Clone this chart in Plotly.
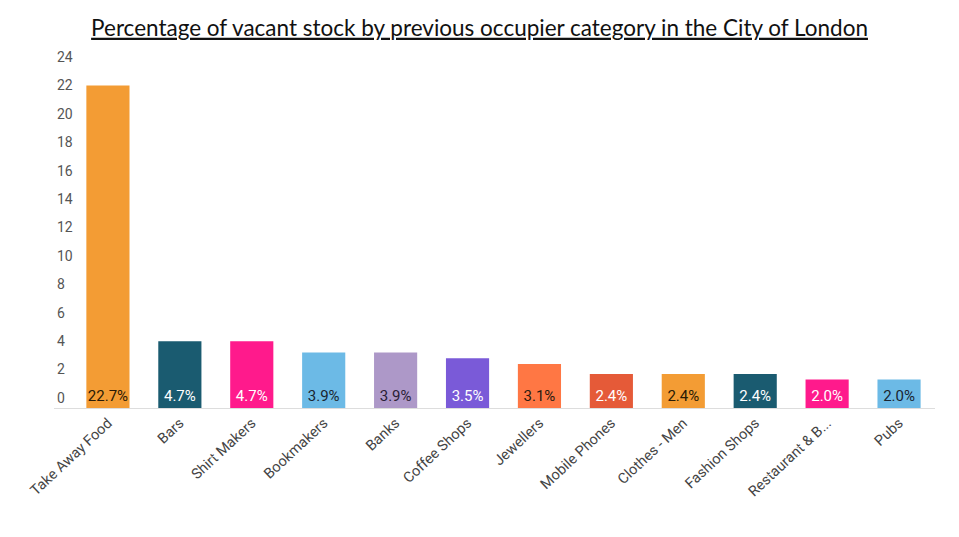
import plotly.graph_objects as go

categories = ["Take Away Food", "Bars", "Shirt Makers", "Bookmakers", "Banks",
              "Coffee Shops", "Jewellers", "Mobile Phones", "Clothes - Men",
              "Fashion Shops", "Restaurant & B...", "Pubs"]
values = [22.7, 4.7, 4.7, 3.9, 3.9, 3.5, 3.1, 2.4, 2.4, 2.4, 2.0, 2.0]
labels = ["22.7%", "4.7%", "4.7%", "3.9%", "3.9%", "3.5%", "3.1%", "2.4%",
          "2.4%", "2.4%", "2.0%", "2.0%"]
y_ticks = list(range(0, 25, 2))

bar_colors = ["#F39C34", "#1A5B70", "#FF1A8C", "#6CBAE6", "#AD98C8", "#7A5AD8",
              "#FF7744", "#E55A38", "#F39C34", "#1A5B70", "#FF1A8C", "#6CBAE6"]
text_colors = ["#2A1A05", "#FFFFFF", "#FFFFFF", "#1A2530", "#2A2035", "#FFFFFF",
               "#2A1A10", "#FFFFFF", "#2A1A05", "#FFFFFF", "#FFFFFF", "#1A2530"]

fig = go.Figure(go.Bar(
    x=categories, y=values,
    marker=dict(color=bar_colors, line=dict(width=0)),
    text=labels, textposition="inside", insidetextanchor="start",
    textangle=0,
    textfont=dict(family="Roboto", size=15, color=text_colors),
    cliponaxis=False,
))

# the page body adds an 8px offset, so margins are shifted to compensate
fig.update_layout(
    width=959, height=537,
    paper_bgcolor="white", plot_bgcolor="white",
    margin=dict(l=46, r=32, t=59, b=137),
    bargap=0.4,
    showlegend=False,
    uniformtext=dict(minsize=15, mode="show"),
    title=dict(
        text="Percentage of vacant stock by previous occupier category in the City of London",
        x=0.4917, xanchor="center", y=0.963, yanchor="middle",
        font=dict(family="Lato", size=22.5, color="#111111", lineposition="under"),
    ),
)
fig.update_xaxes(
    range=[-0.75, 11.5],
    tickangle=-43,
    tickfont=dict(family="Roboto", size=14.5, color="#444444"),
    showline=True, linecolor="#DDDDDD", linewidth=1,
    showgrid=False, ticks="",
)
fig.update_yaxes(
    range=[0, 24],
    tickvals=y_ticks,
    ticklabelposition="inside",
    ticklabeloverflow="allow",
    ticklabelshift=-10,
    tickfont=dict(family="Roboto", size=14, color="#555555"),
    showgrid=False, zeroline=False, showline=False, ticks="",
)

fig.write_html("out.html")
